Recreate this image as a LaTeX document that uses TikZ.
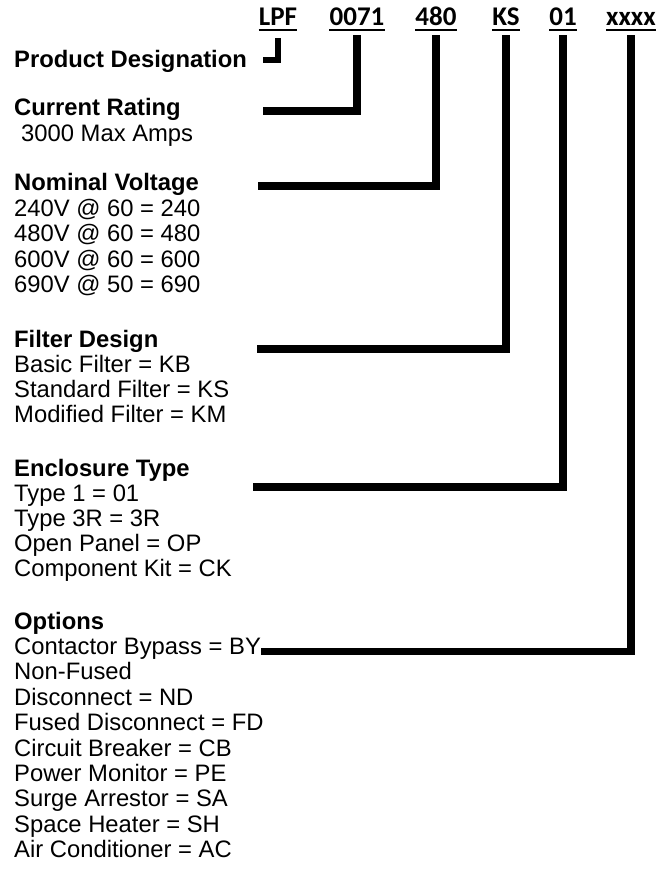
\documentclass[tikz,border=0pt]{standalone}
\usepackage{fontspec}
\setmainfont{Liberation Sans}
\newfontfamily\hdrfont{Carlito}
\begin{document}
\begin{tikzpicture}[x=1pt,y=-1pt,
  txt/.style={anchor=base west, inner sep=0pt, font=\fontsize{23.8}{25}\selectfont},
  head/.style={anchor=base west, inner sep=0pt, font=\fontsize{23.8}{25}\selectfont\bfseries},
  code/.style={anchor=base, inner sep=0pt, font=\hdrfont\bfseries\fontsize{27}{28}\selectfont},
  conn/.style={line width=7.5pt, line join=miter, line cap=butt},
  uline/.style={line width=2pt}]
\useasboundingbox (0,0) rectangle (659,873);
% header codes
\node[code] (cLPF) at (278,25) {LPF};
\node[code] (c0071) at (357,25) {0071};
\node[code] (c480) at (436,25) {480};
\node[code] (cKS) at (506,25) {KS};
\node[code] (c01) at (563,25) {01};
\node[code] (cx) at (631,25) {xxxx};
\foreach \n in {cLPF,c0071,c480,cKS,c01,cx}
  \draw[uline] ([yshift=-5pt]\n.base west) -- ([yshift=-5pt]\n.base east);
% left column
\node[head] (pd) at (14,67) {Product Designation};
\node[head] (cr) at (14,115) {Current Rating};
\node[txt] (cr1) at (21,141) {3000 Max Amps};
\node[head] (nv) at (14,190) {Nominal Voltage};
\node[txt] (nv1) at (14,216) {240V @ 60 = 240};
\node[txt] (nv2) at (14,241) {480V @ 60 = 480};
\node[txt] (nv3) at (14,267) {600V @ 60 = 600};
\node[txt] (nv4) at (14,292) {690V @ 50 = 690};
\node[head] (fd) at (14,347) {Filter Design};
\node[txt] (fd1) at (14,372) {Basic Filter = KB};
\node[txt] (fd2) at (14,397) {Standard Filter = KS};
\node[txt] (fd3) at (14,422) {Modified Filter = KM};
\node[head] (et) at (14,476) {Enclosure Type};
\node[txt] (et1) at (14,501) {Type 1 = 01};
\node[txt] (et2) at (14,526) {Type 3R = 3R};
\node[txt] (et3) at (14,551) {Open Panel = OP};
\node[txt] (et4) at (14,576) {Component Kit = CK};
\node[head] (op) at (14,629) {Options};
\node[txt] (op1) at (14,654.4) {Contactor Bypass = BY};
\node[txt] (op2) at (14,679.8) {Non-Fused};
\node[txt] (op3) at (14,705.2) {Disconnect = ND};
\node[txt] (op4) at (14,730.6) {Fused Disconnect = FD};
\node[txt] (op5) at (14,756) {Circuit Breaker = CB};
\node[txt] (op6) at (14,781.4) {Power Monitor = PE};
\node[txt] (op7) at (14,806.8) {Surge Arrestor = SA};
\node[txt] (op8) at (14,832.2) {Space Heater = SH};
\node[txt] (op9) at (14,857.6) {Air Conditioner = AC};
% connectors
\coordinate (aLPF) at (263,60);
\coordinate (a0071) at (263,111);
\coordinate (a480) at (258,186);
\coordinate (aKS) at (257,349);
\coordinate (a01) at (253,487);
\coordinate (ax) at (op1.base east);
\draw[conn, line width=6pt] (aLPF) -| ([yshift=-13pt]cLPF.base);
\draw[conn] (a0071) -| ([yshift=-10pt]c0071.base);
\draw[conn] (a480) -| ([yshift=-10pt]c480.base);
\draw[conn] (aKS) -| ([yshift=-10pt]cKS.base);
\draw[conn] (a01) -| ([yshift=-10pt]c01.base);
\draw[conn] ([yshift=3pt]ax) -| ([yshift=-10pt]cx.base);
\end{tikzpicture}
\end{document}
